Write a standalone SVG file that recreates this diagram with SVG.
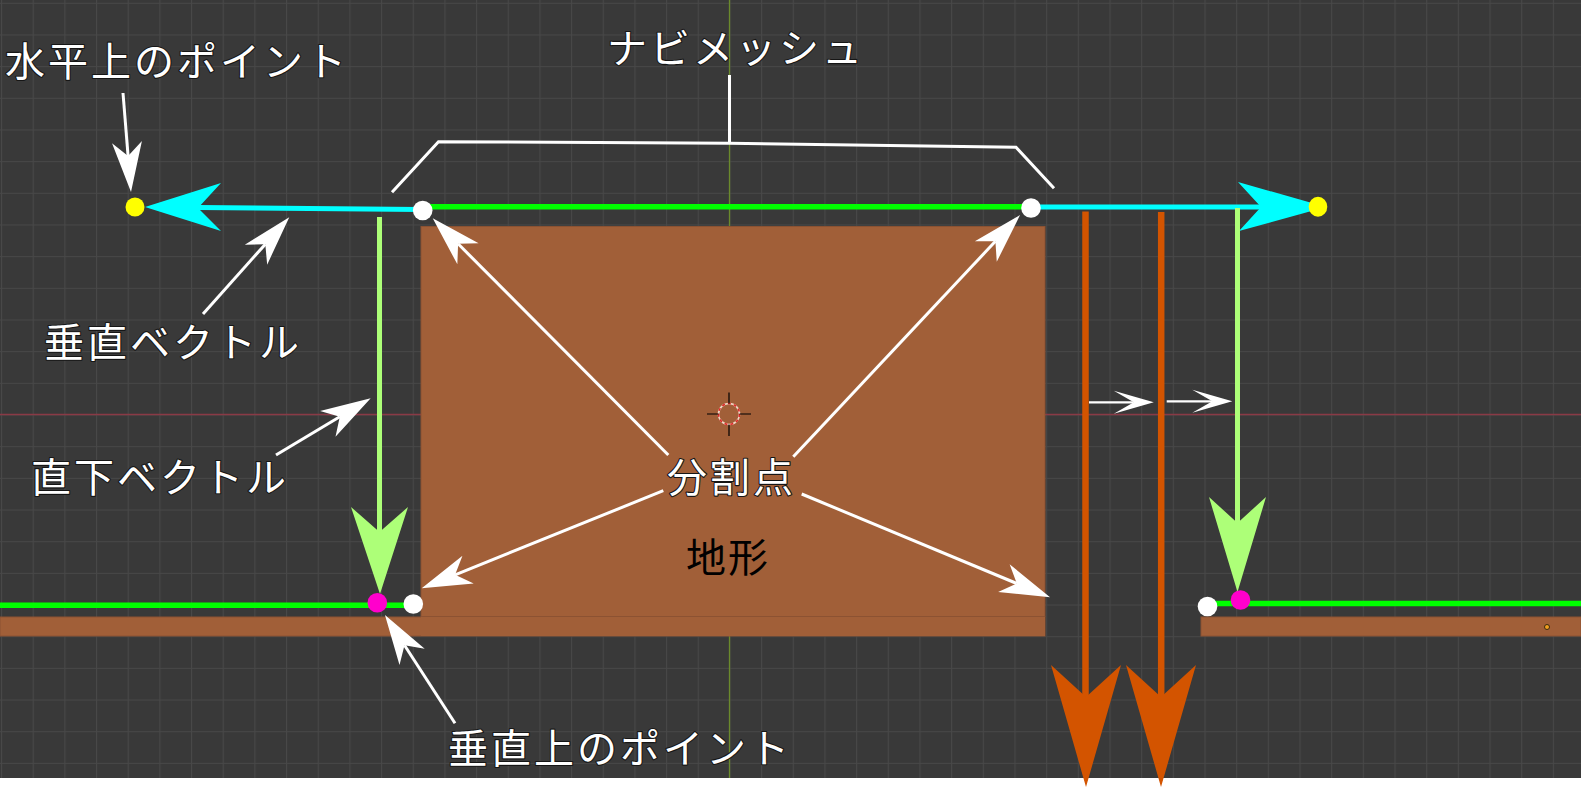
<svg xmlns="http://www.w3.org/2000/svg" width="1581" height="789" viewBox="0 0 1581 789">
  <defs>
    <pattern id="grid" x="1" y="2.8" width="31.67" height="31.67" patternUnits="userSpaceOnUse">
      <path d="M0 0.5H31.67M0.5 0V31.67" stroke="#484848" stroke-width="1.2" fill="none"/>
    </pattern>
    <marker id="headW" markerUnits="userSpaceOnUse" orient="auto" viewBox="-52 -17 54 34" markerWidth="54" markerHeight="34" refX="-36" refY="0" overflow="visible">
      <path d="M0 0L-50 -15L-36 0L-50 15Z" fill="#ffffff"/>
    </marker>
    <marker id="headS" markerUnits="userSpaceOnUse" orient="auto" viewBox="-42 -13 44 26" markerWidth="44" markerHeight="26" refX="-20" refY="0" overflow="visible">
      <path d="M0 0L-40 -11.5L-20 0L-40 11.5Z" fill="#ffffff"/>
    </marker>
    <style>
      .lbl { font-family: "Noto Sans CJK JP", "Noto Sans", sans-serif; font-size: 40px; letter-spacing: 3px; fill: #ffffff; stroke: #161616; stroke-width: 2.2px; paint-order: stroke; stroke-linejoin: round; }
      .dark { font-family: "Noto Sans CJK JP", "Noto Sans", sans-serif; font-size: 40px; letter-spacing: 2px; fill: #000000; }
      .ann { fill: none; stroke: #ffffff; stroke-width: 3; stroke-linecap: butt; }
      .annS { fill: none; stroke: #ffffff; stroke-width: 2.2; }
      .white { fill: #ffffff; }
      .yellow { fill: #ffff00; }
      .magenta { fill: #ff00cc; }
      .cyan { stroke: #00ffff; stroke-width: 5; fill: none; }
      .green { stroke: #00ff00; stroke-width: 5.6; fill: none; }
      .lgreen { stroke: #adff78; stroke-width: 5; fill: none; }
      .orange { stroke: #d35400; stroke-width: 6.5; fill: none; }
      .terrain { fill: #a15f38; stroke: #8c5232; stroke-width: 1; }
    </style>
  </defs>

  <g id="background">
    <rect x="0" y="0" width="1581" height="789" fill="#ffffff"/>
    <rect x="0" y="0" width="1581" height="778" fill="#393939"/>
    <rect x="0" y="0" width="1581" height="778" fill="url(#grid)"/>
    <path d="M0 414.5H421M1045 414.5H1581" stroke="#8a3a46" stroke-width="1.4"/>
    <path d="M729.5 0V226M729.5 636V778" stroke="#6b8a2c" stroke-width="1.3"/>
  </g>

  <g id="terrain">
    <rect class="terrain" x="0" y="617" width="1045" height="19"/>
    <rect class="terrain" x="421" y="226.5" width="624" height="390"/>
    <rect x="421" y="616" width="624" height="20" fill="#a15f38"/>
    <path d="M421 616.5H1045" stroke="#8c5232" stroke-width="1"/>
    <rect class="terrain" x="1201" y="617" width="380" height="19"/>
    <circle cx="1547" cy="627" r="2.5" fill="#f0a020" stroke="#3a2a10" stroke-width="1"/>
  </g>

  <g id="origin">
    <circle cx="729" cy="414" r="10.5" fill="none" stroke="#f0d8c8" stroke-width="1.6"/>
    <circle cx="729" cy="414" r="10.5" fill="none" stroke="#e02828" stroke-width="1.6" stroke-dasharray="3 3"/>
    <path d="M707 414H718.5M739.5 414H751M729 392.5V403.5M729 424.5V436" stroke="#000000" stroke-width="1.2"/>
  </g>

  <g id="connectors">
    <path class="cyan" d="M198 207.5L420 209.5"/>
    <polygon fill="#00ffff" points="145,207 221,183 198,208 221,231"/>
    <path class="cyan" d="M1031 207H1262"/>
    <polygon fill="#00ffff" points="1326,207 1238,182 1261,207 1239,231"/>
    <path class="green" d="M422 206.7H1031"/>
    <path class="green" d="M0 605.3H413"/>
    <path class="green" d="M1207 603.5H1581"/>
    <path class="lgreen" d="M379.5 217V533"/>
    <polygon fill="#adff78" points="380,594 351,507 379.5,532 408,507"/>
    <path class="lgreen" d="M1237.5 208V524"/>
    <polygon fill="#adff78" points="1237.5,592 1209,497 1237.5,523 1266,497"/>
    <path class="orange" d="M1085.5 211.5V698"/>
    <polygon fill="#d35400" points="1086,787 1051,665 1086,697 1121,665"/>
    <path class="orange" d="M1161.2 212V698"/>
    <polygon fill="#d35400" points="1161,787 1126,665 1161,697 1196,665"/>

    <path class="annS" d="M1089 402.3H1133.8" marker-end="url(#headS)"/>
    <path class="annS" d="M1166.7 401.3H1212.3" marker-end="url(#headS)"/>

    <path class="ann" d="M392 192.3L438.5 141.7L729.5 143.3L1016 147.3L1054 188.3"/>
    <path class="ann" d="M729.5 143.3V75"/>

    <path class="ann" d="M123 93L128.1 156.1" marker-end="url(#headW)"/>
    <path class="ann" d="M203 314L265.3 244.2" marker-end="url(#headW)"/>
    <path class="ann" d="M276 455L339.8 416.8" marker-end="url(#headW)"/>
    <path class="ann" d="M455 723.3L404.5 645.2" marker-end="url(#headW)"/>
    <path class="ann" d="M668.3 455L458.1 243.8" marker-end="url(#headW)"/>
    <path class="ann" d="M793.3 456.7L995.4 241.3" marker-end="url(#headW)"/>
    <path class="ann" d="M663.3 490.7L455.1 574.8" marker-end="url(#headW)"/>
    <path class="ann" d="M801.7 494L1016.8 583.5" marker-end="url(#headW)"/>
  </g>

  <g id="points">
    <circle class="yellow" cx="135" cy="207" r="9.5"/>
    <ellipse class="yellow" cx="1318" cy="206.7" rx="9.3" ry="10"/>
    <circle class="white" cx="422.7" cy="210.5" r="9.8"/>
    <circle class="white" cx="1031" cy="208" r="9.8"/>
    <circle class="white" cx="413.3" cy="604" r="9.8"/>
    <circle class="white" cx="1207.5" cy="606.5" r="9.8"/>
    <circle class="magenta" cx="377.3" cy="602.7" r="9.8"/>
    <circle class="magenta" cx="1240.5" cy="600" r="9.8"/>
  </g>

  <g id="label-horizontal-point"><text class="lbl" x="5" y="76">水平上のポイント</text></g>
  <g id="label-navmesh"><text class="lbl" x="607" y="63">ナビメッシュ</text></g>
  <g id="label-vertical-vector"><text class="lbl" x="44" y="357">垂直ベクトル</text></g>
  <g id="label-down-vector"><text class="lbl" x="31" y="492">直下ベクトル</text></g>
  <g id="label-split-point"><text class="lbl" x="667" y="492">分割点</text></g>
  <g id="label-terrain"><text class="dark" x="686" y="572">地形</text></g>
  <g id="label-vertical-point"><text class="lbl" x="448" y="763">垂直上のポイント</text></g>
</svg>
